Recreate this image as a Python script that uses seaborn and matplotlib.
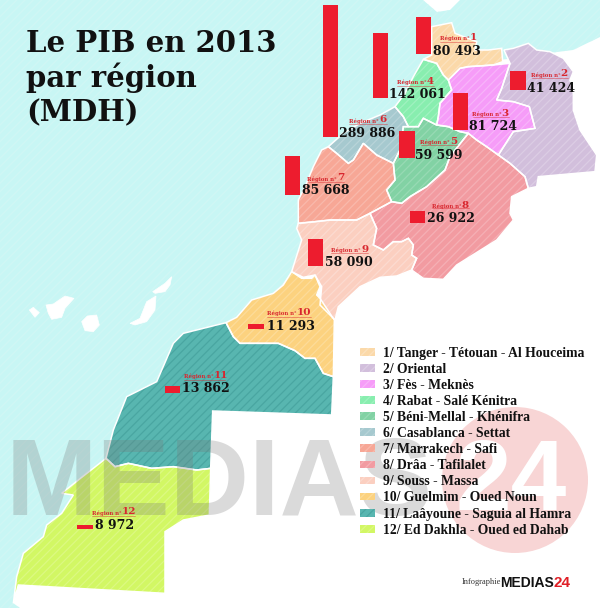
import matplotlib
matplotlib.use("Agg")
import matplotlib.pyplot as plt
from matplotlib.patches import Polygon, Patch, Ellipse
import seaborn as sns

# ---------- data ----------
regions = ["Tanger - Tétouan - Al Houceima", "Oriental", "Fès - Meknès", "Rabat - Salé Kénitra",
           "Béni-Mellal - Khénifra", "Casablanca - Settat", "Marrakech - Safi", "Drâa - Tafilalet",
           "Souss - Massa", "Guelmim - Oued Noun", "Laâyoune - Saguia al Hamra", "Ed Dakhla - Oued ed Dahab"]
pib = [80493, 41424, 81724, 142061, 59599, 289886, 85668, 26922, 58090, 11293, 13862, 8972]
colors = ["#fbd9a9", "#d2bfdc", "#f69cf8", "#88eeaf", "#82d2a4", "#a6c9cf",
          "#f7a796", "#f29ba1", "#fbcfc0", "#fcd27f", "#58b6b0", "#d2f764"]
stripes = ["#fce2bf", "#dccde4", "#f8b4fa", "#a0f2c0", "#98dab4", "#b8d4d9",
           "#f9b9ac", "#f5b0b5", "#fcdbd0", "#fddc99", "#49a6a1", "#dcf982"]

# ---------- layout (pixels of the picture) ----------
bar_center = [423.5, 518, 460.5, 380.3, 407, 330.6, 292.3, 417.6, 315.6, 256, 172.6, 85]
bar_base = [54.3, 90.3, 130, 98.3, 158.3, 137.3, 195, 223, 266, 329.3, 392.7, 529.3]
val_x = [433.3, 527.3, 469, 389.3, 415.3, 339.3, 302, 427.3, 325, 267.3, 181.7, 95]
val_y = [51.7, 88.3, 126.7, 95, 155.7, 133.3, 190.7, 219, 262.7, 326.7, 388.7, 525.3]
lab_x = [470, 560.7, 501.7, 426.7, 450, 379, 336.7, 461.7, 361, 296.7, 214, 121.7]
lab_y = [37.5, 74, 113, 81.7, 141, 120, 178, 205, 249.3, 312.3, 375.7, 512]
ul_y = [42, 78, 117, 86, 145, 124, 182, 208, 253, 317, 380, 516]
ul_x0 = [440, 531.7, 472.7, 396.7, 420.7, 349.3, 308, 432.3, 331, 266.7, 184.3, 92.3]
ul_x1 = [475, 568.3, 509.3, 434, 457.3, 386.7, 344, 469.3, 368.3, 310.7, 225.3, 135]
PX_PER_MDH = 0.458 / 1000


def z1(pts):
    return [(280 + x / 3, y / 3) for x, y in pts]


def z2(pts):
    return [(x / 3, 230 + y / 3) for x, y in pts]


sea = [(0, 0), (423, 0), (437, 12), (450, 10), (460, 0), (600, 0), (600, 37), (573, 50), (557, 52),
       (500, 60), (400, 150), (300, 260), (250, 330), (150, 420), (60, 560), (25, 580), (18, 586),
       (13, 603), (20, 608), (0, 608)]

shapes = [
    z1([(455, 80), (515, 68), (525, 100), (590, 125), (585, 150), (625, 150), (665, 145), (668, 185), (640, 195),
        (565, 200), (540, 205), (505, 240), (490, 225), (470, 190), (430, 178), (455, 165)]),
    z1([(672, 150), (700, 145), (745, 130), (770, 150), (810, 155), (850, 175), (880, 215), (870, 240), (880, 280),
        (880, 330), (900, 390), (950, 465), (945, 515), (775, 530), (770, 560), (745, 565), (735, 530), (690, 490),
        (655, 465), (700, 395), (765, 385), (748, 320), (700, 305), (650, 300), (665, 265), (690, 190)]),
    z1([(540, 205), (565, 200), (640, 195), (690, 190), (665, 265), (650, 300), (700, 305), (748, 320), (765, 385),
        (700, 395), (655, 465), (620, 440), (590, 420), (565, 400), (540, 395), (505, 380), (470, 375), (475, 350),
        (480, 310), (515, 270), (505, 240)]),
    z1([(430, 178), (470, 190), (490, 225), (505, 240), (515, 270), (480, 310), (475, 350), (470, 375), (430, 355),
        (415, 380), (385, 380), (370, 350), (345, 320), (375, 280), (400, 230)]),
    z1([(415, 380), (430, 355), (470, 375), (505, 380), (540, 395), (565, 400), (545, 425), (510, 470), (495, 510),
        (440, 560), (390, 590), (365, 610), (335, 605), (320, 570), (345, 540), (340, 490), (360, 450), (370, 380),
        (385, 380)]),
    z1([(345, 320), (370, 350), (385, 380), (370, 380), (360, 450), (340, 490), (290, 465), (250, 430), (220, 480),
        (205, 490), (170, 460), (145, 440), (190, 400), (240, 370), (300, 345)]),
    z1([(145, 440), (170, 460), (205, 490), (220, 480), (250, 430), (290, 465), (340, 490), (345, 540), (320, 570),
        (335, 605), (270, 640), (230, 660), (150, 660), (105, 665), (55, 670), (55, 600), (75, 560), (100, 500),
        (125, 450)]),
    z1([(565, 400), (590, 420), (620, 440), (655, 465), (690, 490), (735, 530), (745, 565), (715, 580), (695, 590),
        (690, 640), (700, 660), (650, 720), (570, 770), (530, 795), (490, 838), (430, 835), (395, 810), (410, 775),
        (395, 765), (400, 735), (385, 715), (365, 725), (340, 725), (310, 750), (280, 735), (290, 685), (270, 640),
        (335, 605), (365, 610), (390, 590), (440, 560), (495, 510), (510, 470), (545, 425)]),
    z1([(55, 670), (105, 665), (150, 660), (230, 660), (270, 640), (290, 685), (280, 735), (310, 750), (340, 725),
        (365, 725), (385, 715), (400, 735), (395, 765), (410, 775), (395, 810), (350, 828), (300, 832), (240, 860),
        (175, 920), (165, 960), (120, 915), (125, 860), (105, 825), (70, 832), (35, 815), (65, 720), (50, 685)]),
    z2([(875, 125), (905, 145), (935, 145), (945, 135), (960, 170), (950, 195), (960, 205), (1003, 270), (1000, 440),
        (970, 430), (945, 385), (915, 385), (885, 362), (835, 340), (720, 340), (700, 320), (678, 278), (710, 262),
        (755, 210), (820, 190), (850, 165)]),
    z2([(678, 278), (700, 320), (720, 340), (835, 340), (885, 362), (915, 385), (945, 385), (970, 430), (1000, 440),
        (995, 555), (638, 543), (632, 715), (590, 720), (520, 710), (455, 715), (385, 700), (345, 710), (318, 685),
        (340, 600), (380, 500), (470, 455), (520, 340), (550, 310)]),
    z2([(318, 685), (345, 710), (385, 700), (455, 715), (520, 710), (590, 720), (632, 715), (628, 855), (550, 870),
        (495, 905), (495, 1090), (55, 1065), (40, 1120), (50, 1040), (70, 970), (130, 920), (140, 885), (185, 850),
        (220, 795), (185, 790), (235, 750)]),
]
islands = [
    z2([(88, 240), (100, 232), (118, 248), (105, 262)]),
    z2([(138, 225), (160, 222), (195, 198), (222, 205), (195, 235), (185, 262), (155, 268), (145, 250)]),
    z2([(245, 275), (262, 258), (290, 255), (298, 285), (280, 305), (255, 302)]),
    z2([(390, 280), (420, 265), (440, 215), (468, 198), (465, 240), (440, 275), (405, 285)]),
    z2([(458, 185), (495, 160), (515, 140), (510, 165), (495, 185), (465, 190)]),
]

# ---------- drawing ----------
sns.set_theme(style="white")
SERIF = ["DejaVu Serif"]
LEG = ["Liberation Serif"]
SANS = ["Liberation Sans"]
plt.rcParams["hatch.linewidth"] = 0.9

fig = plt.figure(figsize=(6, 6.08), dpi=100, facecolor="white")
ax = fig.add_axes([0, 0, 1, 1])

ax.add_patch(Polygon(sea, closed=True, facecolor="#c8f6f4", edgecolor="#d0f7f5", hatch="////", lw=0, zorder=1))
for pts in islands:
    ax.add_patch(Polygon(pts, closed=True, facecolor="white", edgecolor="white", lw=0.5, zorder=1.5))
for pts, c, s in zip(shapes, colors, stripes):
    ax.add_patch(Polygon(pts, closed=True, facecolor=c, edgecolor=s, hatch="////", lw=0, zorder=2))
    ax.add_patch(Polygon(pts, closed=True, fill=False, edgecolor="white", lw=1.1, zorder=2.2))

# watermark
ax.text(6, 515, "MEDIAS", family=SANS, weight="bold", fontsize=79, color="#777777", alpha=0.27,
        ha="left", va="baseline", zorder=2.3)
ax.add_patch(Ellipse((515, 480), 146, 146, facecolor="#f8d5d5", edgecolor="none", zorder=2.5))
ax.text(511, 484, "24", family=SANS, weight="bold", fontsize=72, color="white", ha="center", va="center", zorder=2.6)

# bars: heights come from the values, negative because the picture axis points down
for cx, base, v in zip(bar_center, bar_base, pib):
    sns.barplot(x=[cx], y=[-v * PX_PER_MDH], native_scale=True, orient="x", width=15.2, bottom=base,
                color="#ed1c2e", saturation=1, errorbar=None, linewidth=0, ax=ax, zorder=3)

# labels
for i, v in enumerate(pib):
    ax.text(val_x[i], val_y[i], f"{v:,}".replace(",", " "), family=SERIF, weight="bold", fontsize=9,
            color="#111111", ha="left", va="center", zorder=4)
    ax.text(lab_x[i], lab_y[i] + 1, "Région n°", family=SERIF, weight="bold", fontsize=3.9,
            color="#d8262e", ha="right", va="center", zorder=4)
    ax.text(lab_x[i], lab_y[i], str(i + 1), family=SERIF, weight="bold", fontsize=7.5,
            color="#d8262e", ha="left", va="center", zorder=4)
    ax.plot([ul_x0[i], ul_x1[i]], [ul_y[i], ul_y[i]], color="#d8262e", lw=0.5, alpha=0.6, zorder=4)

# title
ax.text(26, 52, "Le PIB en 2013", family=SERIF, weight="bold", fontsize=21, color="#111111", ha="left", va="baseline", zorder=5)
ax.text(26, 87, "par région", family=SERIF, weight="bold", fontsize=21, color="#111111", ha="left", va="baseline", zorder=5)
ax.text(26, 121, "(MDH)", family=SERIF, weight="bold", fontsize=21, color="#111111", ha="left", va="baseline", zorder=5)

# legend
handles = [Patch(facecolor=c, edgecolor=s, hatch="////", lw=0) for c, s in zip(colors, stripes)]
labels = [f"{i + 1}/ {r}" for i, r in enumerate(regions)]
leg = ax.legend(handles, labels, loc="upper left", bbox_to_anchor=(360, 346.5), bbox_transform=ax.transData,
                frameon=False, borderpad=0, borderaxespad=0, handlelength=1.1, handleheight=0.5,
                handletextpad=0.6, labelspacing=0.228,
                prop={"family": "Liberation Serif", "weight": "bold", "size": 9.8})
leg.set_zorder(5)
for t in leg.get_texts():
    t.set_color("#111111")

# signature
ax.text(462, 582, "Infographie", family=LEG, fontsize=6, color="#333333", ha="left", va="center", zorder=5)
ax.text(500, 583, "MEDIAS", family=SANS, weight="bold", fontsize=10, color="#111111", ha="left", va="center", zorder=5)
ax.text(553, 583, "24", family=SANS, weight="bold", fontsize=11, color="#e01f26", ha="left", va="center", zorder=5)

ax.set_xlim(0, 600)
ax.set_ylim(608, 0)
ax.set_axis_off()
fig.savefig("out.png", dpi=100)
